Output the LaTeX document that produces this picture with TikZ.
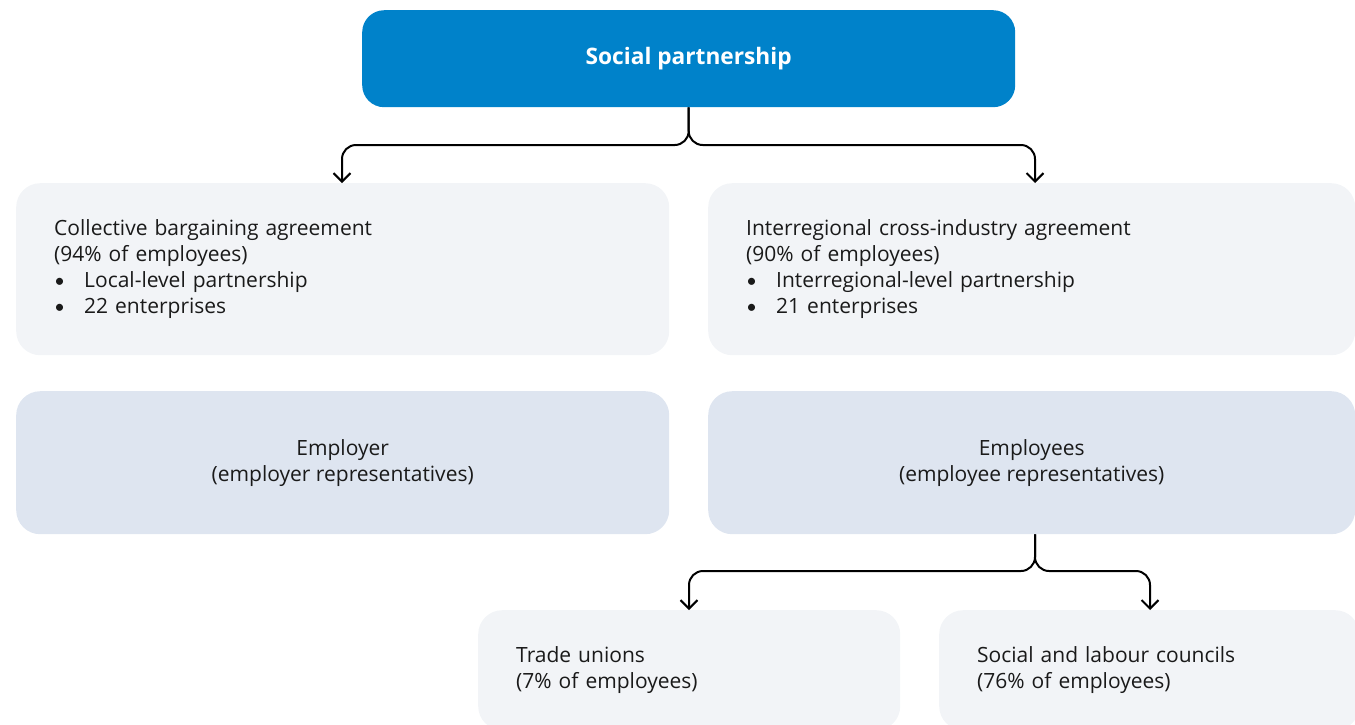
\documentclass[tikz,border=0pt]{standalone}
\usepackage{fontspec}
\setmainfont{Open Sans}
\newfontfamily\bulfont{Lato}
\usetikzlibrary{arrows.meta}
\definecolor{topblue}{RGB}{0,130,202}
\definecolor{lightgray}{RGB}{242,244,247}
\definecolor{lightblue}{RGB}{222,229,240}
\definecolor{textdark}{RGB}{26,26,26}
\tikzset{
  graybox/.style={rectangle, rounded corners=24pt, fill=lightgray, draw=none, anchor=north west,
    text=textdark, font=\fontsize{21}{26}\selectfont, align=left, inner xsep=38pt, inner ysep=0pt},
  bluebox/.style={rectangle, rounded corners=24pt, fill=lightblue, draw=none, anchor=north west,
    text=textdark, font=\fontsize{21}{26}\selectfont, align=center, inner sep=0pt},
  topbox/.style={rectangle, rounded corners=22pt, fill=topblue, draw=none, anchor=north west,
    text=white, font=\fontsize{22.7}{26}\selectfont\bfseries, inner sep=0pt},
  conn/.style={draw=black, line width=2pt, rounded corners=14pt, -{Straight Barb[length=8.5pt,width=17pt,line width=2pt]}},
}
\newcommand{\bul}{\makebox[30pt][l]{\fontsize{19}{26}\bulfont\textbullet}}
\begin{document}
\begin{tikzpicture}[x=1pt,y=-1pt]
\useasboundingbox (0,0) rectangle (1355,724);
\node[topbox, minimum width=653pt, minimum height=97pt] (top) at (362,10) {\raisebox{6pt}{Social partnership}};
\node[graybox, minimum width=653pt, minimum height=172pt, text width=577pt] (cba) at (16,183)
  {Collective bargaining agreement\\(94\% of employees)\\\bul Local-level partnership\\\bul 22 enterprises};
\node[graybox, minimum width=647pt, minimum height=172pt, text width=571pt] (ica) at (708,183)
  {Interregional cross-industry agreement\\(90\% of employees)\\\bul Interregional-level partnership\\\bul 21 enterprises};
\node[bluebox, minimum width=653pt, minimum height=143pt] (emp) at (16,391)
  {Employer\\(employer representatives)};
\node[bluebox, minimum width=647pt, minimum height=143pt] (emps) at (708,391)
  {Employees\\(employee representatives)};
\node[graybox, minimum width=422pt, minimum height=120pt, text width=346pt] (tu) at (478,610)
  {Trade unions\\(7\% of employees)};
\node[graybox, minimum width=420pt, minimum height=120pt, text width=344pt] (slc) at (939,610)
  {Social and labour councils\\(76\% of employees)};
\draw[conn] (top.south) |- (342,145) -- (342,183);
\draw[conn] (top.south) |- (1035,145) -- (1035,183);
\draw[conn] (emps.south -| 1035,0) |- (689,571) -- (689,610);
\draw[conn] (emps.south -| 1035,0) |- (1150,571) -- (1150,610);
\end{tikzpicture}
\end{document}
